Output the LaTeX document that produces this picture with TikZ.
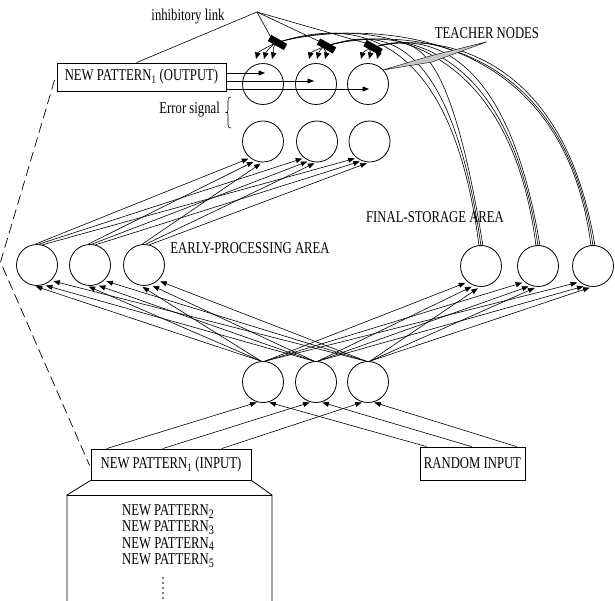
\documentclass[tikz,border=0pt]{standalone}
\usepackage{fontspec}
\setmainfont{Liberation Serif}[FakeStretch=0.77]
\usetikzlibrary{arrows.meta,calc}
\newcommand{\lsub}[1]{\raisebox{-0.35ex}{\fontsize{13}{13}\selectfont #1}}
\begin{document}
\begin{tikzpicture}[x=1pt,y=-1pt,
  neuron/.style={circle,draw,line width=0.8pt,minimum size=41pt,inner sep=0pt},
  lbl/.style={font=\fontsize{16.5}{16.5}\selectfont,inner sep=0pt},
  pbox/.style={draw,line width=0.8pt,font=\fontsize{16.5}{16.5}\selectfont,inner sep=0pt},
  conn/.style={line width=0.6pt,-{Triangle[length=6.5pt,width=5pt]}},
  tconn/.style={line width=0.6pt,-{Triangle[length=6.5pt,width=5.5pt]}},
  plain/.style={line width=0.6pt},
  inhibbar/.style={line width=7pt},
  dashline/.style={line width=0.7pt,dash pattern=on 10pt off 5pt}]
\useasboundingbox (0,0) rectangle (615,601);

% neurons
\node[neuron] (o1) at (263,84) {};
\node[neuron] (o2) at (316,84) {};
\node[neuron] (o3) at (368,84) {};
\node[neuron] (r1) at (263,141.5) {};
\node[neuron] (r2) at (317,141.5) {};
\node[neuron] (r3) at (369.5,141.5) {};
\node[neuron] (e1) at (37,265) {};
\node[neuron] (e2) at (90,265) {};
\node[neuron] (e3) at (144,265) {};
\node[neuron] (f1) at (481,266) {};
\node[neuron] (f2) at (538,266) {};
\node[neuron] (f3) at (593,266) {};
\node[neuron] (h1) at (263,382) {};
\node[neuron] (h2) at (316,382) {};
\node[neuron] (h3) at (368,382) {};

% boxes
\node[pbox,minimum width=169pt,minimum height=28pt] (outbox) at (141.5,77) {NEW PATTERN\textsubscript{1} (OUTPUT)};
\node[pbox,minimum width=160pt,minimum height=31pt] (inbox) at (171,464.5) {NEW PATTERN\textsubscript{1} (INPUT)};
\node[pbox,minimum width=105pt,minimum height=33pt] (rbox) at (472.5,463.5) {RANDOM INPUT};

% labels
\node[lbl] (inh) at (188,17) {inhibitory link};
\node[lbl,anchor=east] (err) at (220,110) {Error signal};
\node[lbl] (teach) at (487,33) {TEACHER NODES};
\node[lbl] (early) at (250,248) {EARLY-PROCESSING AREA};
\node[lbl] (final) at (435,217) {FINAL-STORAGE AREA};
\node[lbl,align=center,font=\fontsize{16.5}{16.3}\selectfont] (list) at (168,536) {NEW PATTERN\lsub{2}\\NEW PATTERN\lsub{3}\\NEW PATTERN\lsub{4}\\NEW PATTERN\lsub{5}};
\foreach \yy in {578,583,588,593,598} \fill (163,\yy) circle (0.9pt);

% list box outline
\draw[line width=0.8pt] (inbox.south west) -- (67,495) -- (67,601);
\draw[line width=0.8pt] (67,495) -- (272,495);
\draw[line width=0.8pt] (inbox.south east) -- (272,495) -- (272,601);

% dashed link
\draw[dashline] ($(outbox.west)+(-2,3)$) -- (0.5,262) -- ($(inbox.west)+(-1,1)$);

% error signal brace
\draw[line width=0.6pt] (231,97) .. controls (229,97) and (228,98) .. (228,100) -- (228,110)
  .. controls (228,112) and (227.5,112.5) .. (226,112.5)
  .. controls (227.5,112.5) and (228,113) .. (228,115) -- (228,125)
  .. controls (228,127) and (229,128) .. (231,128);

% output arrows
\coordinate (ta1) at ($(o1.center)+(2,-11)$);
\coordinate (ta2) at ($(o2.center)+(-2,-3)$);
\coordinate (ta3) at ($(o3.center)+(1,5)$);
\foreach \t in {1,2,3} \draw[conn] (outbox.east |- ta\t) -- (ta\t);

% input -> hidden
\draw[conn,shorten >=1pt] ($(inbox.north west)+(16,0)$) -- (h1.-105);
\draw[conn,shorten >=1pt] ($(inbox.north west)+(72,0)$) -- (h2.-105);
\draw[conn,shorten >=1pt] ($(inbox.north west)+(131,0)$) -- (h3.-105);
\draw[conn,shorten >=1pt] ($(rbox.north west)+(7,0)$) -- (h1.-75);
\draw[conn,shorten >=1pt] ($(rbox.north west)+(52,0)$) -- (h2.-75);
\draw[conn,shorten >=1pt] ($(rbox.north west)+(97,0)$) -- (h3.-75);

% hidden -> early / final
\foreach \h/\a in {1/-100,2/-72,3/-48}
  \foreach \e in {1,2,3}
    \draw[conn,shorten >=2.5pt] (h\h.95) -- (e\e.\a);
\foreach \h/\a in {1/-130,2/-110,3/-93}
  \foreach \f in {1,2,3}
    \draw[conn,shorten >=2.5pt] (h\h.85) -- (f\f.\a);

% early -> error
\foreach \e/\a in {1/-128,2/-112,3/-92}
  \foreach \r/\s in {1/95,2/85,3/75}
    \draw[conn,shorten >=2pt] (e\e.\s) -- (r\r.\a);

% inhibitory bars (centres)
\coordinate (B1) at (277.5,42.5);
\coordinate (B2) at (326.5,46);
\coordinate (B3) at (373,47.5);

% teacher curves final -> output, through the bars
\foreach \j/\k in {1/9,2/1,3/-7}
  \foreach \i/\sx/\cy/\lx/\ly in {1/-2/0/47.5/-15,2/0/15/42.75/-13.5,3/2/30/38/-12}
    \draw[tconn] ($(f\j.north)+(\sx,1)$) .. controls ($(f\j.north)+(-33,\cy-245.5)$)
      and ($(B\i)+(\lx,\ly)$) .. (B\i)
      .. controls ($(B\i)+(-5.7,1.8)$) and ($(o\i.center)+(\k+2,-32)$) .. ($(o\i.center)+(\k,-25)$);

\foreach \b in {1,2,3} \draw[inhibbar] ($(B\b)+(-8,-4.5)$) -- ($(B\b)+(8,4.5)$);
\coordinate (apex) at (257,12);
\draw[plain] (apex) -- ($(outbox.north west)+(80,0)$);
\foreach \b in {1,2,3} \draw[plain] (apex) -- ($(B\b)+(-6,-4)$);

% teacher pointer
\filldraw[fill=gray!45,line width=0.4pt] ($(teach.south)+(0,3)$) -- (430,56) -- ($(o3.center)+(15,-14)$) -- (432,62) -- cycle;
\end{tikzpicture}
\end{document}
